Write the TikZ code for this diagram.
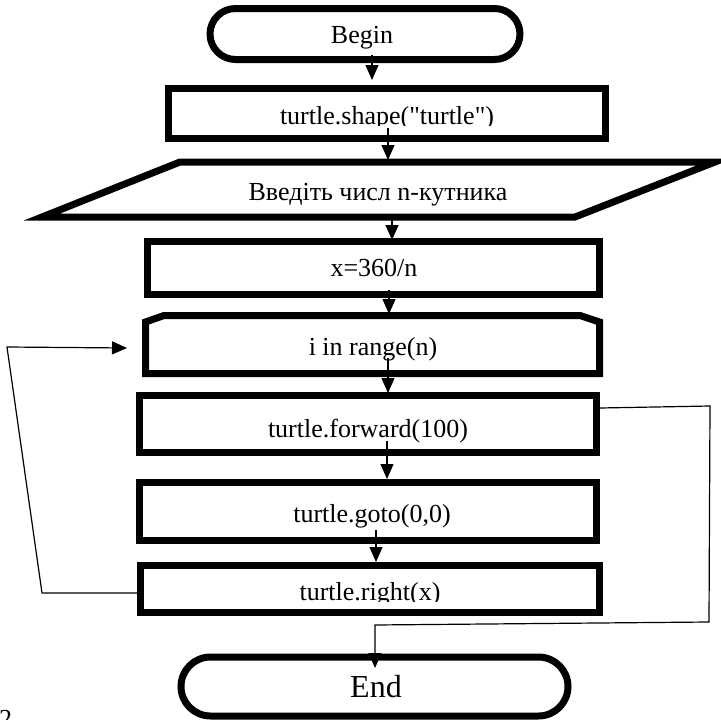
\documentclass[tikz,border=0pt]{standalone}
\usepackage{fontspec}
\setmainfont{Liberation Serif}
\newfontfamily\rawfont{Liberation Serif}
\usetikzlibrary{arrows.meta,shapes.misc}
\begin{document}
\begin{tikzpicture}[x=1pt,y=-1pt,
  blk/.style={draw,rectangle,line width=7pt,inner sep=0pt},
  term/.style={draw,rounded rectangle,line width=7pt,inner sep=0pt},
  shp/.style={line width=7pt,line join=miter},
  txt/.style={font=\rawfont\fontsize{26}{30}\selectfont,inner sep=0pt,anchor=base},
  conn/.style={line width=1.2pt},
  arr/.style={conn,-{Triangle[width=13pt,length=15pt]}}]
\useasboundingbox (0,0) rectangle (721,720);
% shapes
\node[term,minimum width=310pt,minimum height=51pt] (begin) at (365,34) {};
\node[blk,minimum width=437pt,minimum height=50pt] (shape) at (387,113.5) {};
\coordinate (pBL) at (42,217);
\coordinate (pTL) at (180,162);
\coordinate (pTR) at (715,162);
\coordinate (pBR) at (575,217);
\draw[shp] (pBL) -- (pTL) -- (pTR) -- (pBR) -- cycle;
\node[blk,minimum width=452pt,minimum height=53pt] (xbox) at (373.5,268) {};
\coordinate (h1) at (145.5,322);
\coordinate (h2) at (164,315.5);
\coordinate (h3) at (580,315.5);
\coordinate (h4) at (599.5,322);
\coordinate (h5) at (599.5,373.5);
\coordinate (h6) at (145.5,373.5);
\draw[shp] (h1) -- (h2) -- (h3) -- (h4) -- (h5) -- (h6) -- cycle;
\node[blk,minimum width=457pt,minimum height=57pt] (fwd) at (368,424) {};
\node[blk,minimum width=457pt,minimum height=58pt] (goto) at (368,511.5) {};
\node[blk,minimum width=459pt,minimum height=47pt] (rgt) at (370,589) {};
\node[term,minimum width=387pt,minimum height=59pt] (end) at (374.5,686.5) {};
% texts
\node[txt] (tbegin) at (362,43) {Begin};
\begin{scope}
\clip (150,95) rectangle (620,125.5);
\node[txt] (tshape) at (387,124) {turtle.shape("turtle")};
\end{scope}
\node[txt] (tpara) at (378,200) {Введіть числ n-кутника};
\node[txt] (txbox) at (374,276) {x=360/n};
\node[txt] (thex) at (373,355) {i in range(n)};
\node[txt] (tfwd) at (368,437) {turtle.forward(100)};
\node[txt] (tgoto) at (372,522) {turtle.goto(0,0)};
\begin{scope}
\clip (150,570) rectangle (600,601);
\node[txt] (trgt) at (370,600) {turtle.right(x)};
\end{scope}
\node[txt,font=\rawfont\fontsize{32}{38}\selectfont] (tend) at (376,697) {End};
\node[txt,anchor=base west] (two) at (-1,727) {2};
% connectors
\coordinate (a1s) at (372,55);  \coordinate (a1e) at (372,80);
\coordinate (a2s) at (388,128); \coordinate (a2e) at (388,160);
\coordinate (a3s) at (392,217); \coordinate (a3e) at (392,240);
\coordinate (a4s) at (389,290); \coordinate (a4e) at (389,314);
\coordinate (a5s) at (388,358); \coordinate (a5e) at (388,393);
\coordinate (a6s) at (387,441); \coordinate (a6e) at (387,479);
\coordinate (a7s) at (376,530); \coordinate (a7e) at (376,562);
\draw[arr] (a1s) -- (a1e);
\draw[arr] (a2s) -- (a2e);
\draw[arr] (a3s) -- (a3e);
\draw[arr] (a4s) -- (a4e);
\draw[arr] (a5s) -- (a5e);
\draw[arr] (a6s) -- (a6e);
\draw[arr] (a7s) -- (a7e);
\coordinate (l1) at (42,593);
\coordinate (l2) at (7,347);
\coordinate (l3) at (127,348);
\draw[arr] (rgt.west |- l1) -- (l1) -- (l2) -- (l3);
\coordinate (r0) at (fwd.east |- 0,408);
\coordinate (r1) at (710,406);
\coordinate (r2) at (709,622);
\coordinate (r3) at (375,625);
\coordinate (r4) at (375,668);
\draw[arr] (r0) -- (r1) -- (r2) -- (r3) -- (r4);
\end{tikzpicture}
\end{document}
